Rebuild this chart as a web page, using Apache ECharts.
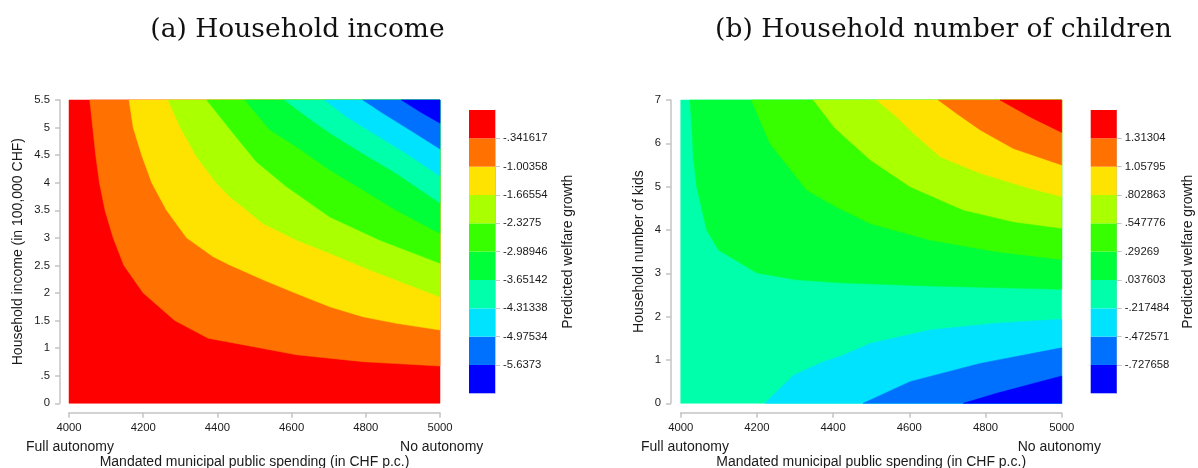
<!DOCTYPE html>
<html>
<head>
<meta charset="utf-8">
<script src="https://cdn.jsdelivr.net/npm/echarts@6/dist/echarts.min.js"></script>
<style>html,body{margin:0;padding:0;background:#fff}#c{width:1198px;height:468px}</style>
</head>
<body>
<div id="c"></div>
<script>
// ---------- data ----------
const titleA = '(a) Household income';
const titleB = '(b) Household number of children';
const xTitle = 'Mandated municipal public spending (in CHF p.c.)';
const yTitleA = 'Household income (in 100,000 CHF)';
const yTitleB = 'Household number of kids';
const barTitle = 'Predicted welfare growth';
const xEndLabels = ['Full autonomy', 'No autonomy'];

// colour levels, highest value first
const levelColors = ['#ff0000','#ff7100','#ffe300','#aaff00','#38ff00','#00ff38','#00ffaa','#00e3ff','#0071ff','#0000ff'];
// colour-bar cut labels (top to bottom)
const incomeCuts = ['-.341617','-1.00358','-1.66554','-2.3275','-2.98946','-3.65142','-4.31338','-4.97534','-5.6373'];
const kidsCuts = ['1.31304','1.05795','.802863','.547776','.29269','.037603','-.217484','-.472571','-.727658'];

// (a) contour boundaries [spending, income]; boundary k separates level k-1 (below-left) from level k
const incomeB1 = [[4056,5.5],[4064,5.0],[4072,4.5],[4082,4.0],[4097,3.5],[4119,3.0],[4148,2.5],[4200,2.0],[4285,1.5],[4375,1.18],[4487,1.04],[4613,0.88],[4792,0.755],[5000,0.676]];
const incomeB2 = [[4162,5.5],[4173,5.0],[4196,4.5],[4223,4.0],[4263,3.5],[4317,3.0],[4388,2.66],[4433,2.51],[4523,2.24],[4613,1.99],[4703,1.75],[4792,1.57],[4882,1.45],[5000,1.33]];
const incomeB3 = [[4267,5.5],[4299,5.02],[4344,4.47],[4398,3.99],[4433,3.75],[4523,3.26],[4613,2.96],[4703,2.72],[4810,2.42],[5000,1.93]];
const incomeB4 = [[4371,5.5],[4442,4.90],[4505,4.38],[4586,3.93],[4703,3.38],[4837,2.96],[5000,2.54]];
const incomeB5 = [[4474,5.5],[4541,4.96],[4613,4.65],[4703,4.23],[4792,3.87],[4882,3.50],[5000,3.08]];
const incomeB6 = [[4581,5.5],[4640,5.20],[4703,4.90],[4792,4.53],[4882,4.17],[5000,3.63]];
const incomeB7 = [[4689,5.5],[4747,5.20],[4819,4.90],[4909,4.53],[5000,4.12]];
const incomeB8 = [[4792,5.5],[4846,5.26],[4918,4.96],[5000,4.61]];
const incomeB9 = [[4896,5.5],[4945,5.29],[5000,5.08]];

// (b) contour boundaries [spending, kids]
const kidsUp1 = [[4024,7],[4029,6.46],[4033,5.69],[4042,5.0],[4068,4.0],[4099,3.54],[4200,3.01],[4304,2.85],[4418,2.78],[4654,2.71],[5000,2.63]];
const kidsUp2 = [[4186,7],[4234,6.0],[4331,4.92],[4405,4.55],[4497,4.15],[4654,3.77],[4829,3.50],[5000,3.32]];
const kidsUp3 = [[4348,7],[4405,6.35],[4497,5.62],[4602,5.0],[4742,4.46],[4873,4.19],[5000,4.04]];
const kidsUp4 = [[4514,7],[4567,6.61],[4611,6.23],[4681,5.69],[4786,5.31],[4917,4.96],[5000,4.77]];
const kidsUp5 = [[4676,7],[4724,6.69],[4786,6.31],[4873,5.88],[5000,5.50]];
const kidsUp6 = [[4838,7],[4917,6.61],[5000,6.25]];
const kidsLow1 = [[4221,0],[4296,0.65],[4374,0.96],[4418,1.08],[4497,1.38],[4654,1.69],[4829,1.85],[5000,1.94]];
const kidsLow2 = [[4479,0],[4602,0.5],[4786,0.92],[5000,1.28]];
const kidsLow3 = [[4742,0],[4829,0.23],[5000,0.63]];

const xMin = 4000, xMax = 5000, xStep = 200;
const incomeMax = 5.5, incomeStep = 0.5;
const kidsMax = 7, kidsStep = 1;

// ---------- build polygons ----------
const incomePolys = [{pts: [[xMin,0],[xMax,0],[xMax,incomeMax],[xMin,incomeMax]], color: levelColors[0]}]
  .concat([incomeB1,incomeB2,incomeB3,incomeB4,incomeB5,incomeB6,incomeB7,incomeB8,incomeB9]
    .map((b,i) => ({pts: b.concat([[xMax,incomeMax]]), color: levelColors[i+1]})));
const kidsPolys = [{pts: [[xMin,0],[xMax,0],[xMax,kidsMax],[xMin,kidsMax]], color: levelColors[6]}]
  .concat([kidsUp1,kidsUp2,kidsUp3,kidsUp4,kidsUp5,kidsUp6].map((b,i) => ({pts: b.concat([[xMax,kidsMax]]), color: levelColors[5-i]})))
  .concat([kidsLow1,kidsLow2,kidsLow3].map((b,i) => ({pts: b.concat([[xMax,0]]), color: levelColors[7+i]})));

const FONT = 'Liberation Sans, Arial, sans-serif';
const TXT = '#1a1a1a';
const AX = '#c4c4c4';

function contourSeries(polys, axisIdx) {
  return {
    type: 'custom', xAxisIndex: axisIdx, yAxisIndex: axisIdx, silent: true, animation: false,
    data: polys.map((p, i) => [p.pts[0][0], p.pts[0][1], i]),
    encode: {x: 0, y: 1},
    renderItem: (params, api) => {
      const poly = polys[api.value(2)];
      return {type: 'polygon', shape: {points: poly.pts.map(p => api.coord(p))},
              style: {fill: poly.color, stroke: poly.color, lineWidth: 0.5}};
    }
  };
}
function barSeries(axisIdx) {
  // bottom (lowest) first so the stack grows upward
  return levelColors.slice().reverse().map(c => ({
    type: 'bar', stack: 'cb' + axisIdx, xAxisIndex: axisIdx, yAxisIndex: axisIdx,
    data: [1], barWidth: '100%', itemStyle: {color: c}, silent: true, animation: false
  }));
}
const fmtNum = v => String(v).replace(/^0\./, '.').replace(/^-0\./, '-.');

function mainX(gridIndex) {
  return {
    type: 'value', gridIndex, min: xMin, max: xMax, interval: xStep, offset: 9.4,
    name: xTitle, nameLocation: 'middle', nameGap: 42,
    nameTextStyle: {fontFamily: FONT, fontSize: 14, color: TXT},
    axisLine: {show: true, onZero: false, lineStyle: {color: AX, width: 1.5}},
    axisTick: {show: true, length: 5, lineStyle: {color: AX, width: 1.5}},
    axisLabel: {fontFamily: FONT, fontSize: 11.3, color: TXT, margin: 10, formatter: v => String(v),
                showMinLabel: true, showMaxLabel: true},
    splitLine: {show: false}
  };
}
function mainY(gridIndex, max, step, name, gap, offset) {
  return {
    type: 'value', gridIndex, min: 0, max, interval: step, offset,
    name, nameLocation: 'middle', nameGap: gap, nameRotate: 90,
    nameTextStyle: {fontFamily: FONT, fontSize: 14, color: TXT},
    axisLine: {show: true, onZero: false, lineStyle: {color: AX, width: 1.5}},
    axisTick: {show: true, length: 5, lineStyle: {color: AX, width: 1.5}},
    axisLabel: {fontFamily: FONT, fontSize: 11.3, color: TXT, margin: 10, formatter: fmtNum, showMinLabel: true, showMaxLabel: true},
    splitLine: {show: false}
  };
}
function barX(gridIndex) {
  return {type: 'category', gridIndex, data: [''], show: false, boundaryGap: true};
}
function barY(gridIndex, cuts, gap) {
  const vals = cuts.map((c, i) => cuts.length - i);
  return {
    type: 'value', gridIndex, min: 0, max: 10, interval: 1, position: 'right',
    name: barTitle, nameLocation: 'middle', nameGap: gap, nameRotate: 90,
    nameTextStyle: {fontFamily: FONT, fontSize: 14, color: TXT},
    axisLine: {show: true, lineStyle: {color: AX, width: 1}},
    axisTick: {show: true, length: 5, customValues: vals, lineStyle: {color: AX, width: 1}},
    axisLabel: {fontFamily: FONT, fontSize: 11.3, color: TXT, margin: 8, customValues: vals,
                formatter: v => cuts[cuts.length - Math.round(v)] || ''},
    splitLine: {show: false}
  };
}

const chart = echarts.init(document.getElementById('c'), null, {renderer: 'canvas'});
chart.setOption({
  backgroundColor: '#ffffff',
  animation: false,
  grid: [
    {left: 69, top: 100, width: 371, height: 303.3, outerBoundsMode: 'none', containLabel: false},
    {left: 680.7, top: 100, width: 381, height: 303.3, outerBoundsMode: 'none', containLabel: false},
    {left: 469, top: 110, width: 26, height: 283.3, outerBoundsMode: 'none', containLabel: false},
    {left: 1090.7, top: 110, width: 26, height: 283.3, outerBoundsMode: 'none', containLabel: false}
  ],
  xAxis: [mainX(0), mainX(1), barX(2), barX(3)],
  yAxis: [
    mainY(0, incomeMax, incomeStep, yTitleA, 35, 9),
    mainY(1, kidsMax, kidsStep, yTitleB, 25, 9.7),
    barY(2, incomeCuts, 66),
    barY(3, kidsCuts, 64)
  ],
  series: [contourSeries(incomePolys, 0), contourSeries(kidsPolys, 1)].concat(barSeries(2), barSeries(3)),
  graphic: [
    {type: 'text', x: 297.5, y: 30, style: {text: titleA, font: '26.5px "DejaVu Serif", serif', fill: '#111', align: 'center', verticalAlign: 'middle'}},
    {type: 'text', x: 943.5, y: 30, style: {text: titleB, font: '26.5px "DejaVu Serif", serif', fill: '#111', align: 'center', verticalAlign: 'middle'}},
    {type: 'text', x: 26, y: 446.7, style: {text: xEndLabels[0], font: '14px ' + FONT, fill: TXT, align: 'left', verticalAlign: 'middle'}},
    {type: 'text', x: 483.3, y: 446.7, style: {text: xEndLabels[1], font: '14px ' + FONT, fill: TXT, align: 'right', verticalAlign: 'middle'}},
    {type: 'text', x: 641, y: 446.7, style: {text: xEndLabels[0], font: '14px ' + FONT, fill: TXT, align: 'left', verticalAlign: 'middle'}},
    {type: 'text', x: 1101, y: 446.7, style: {text: xEndLabels[1], font: '14px ' + FONT, fill: TXT, align: 'right', verticalAlign: 'middle'}}
  ]
});
</script>
</body>
</html>
